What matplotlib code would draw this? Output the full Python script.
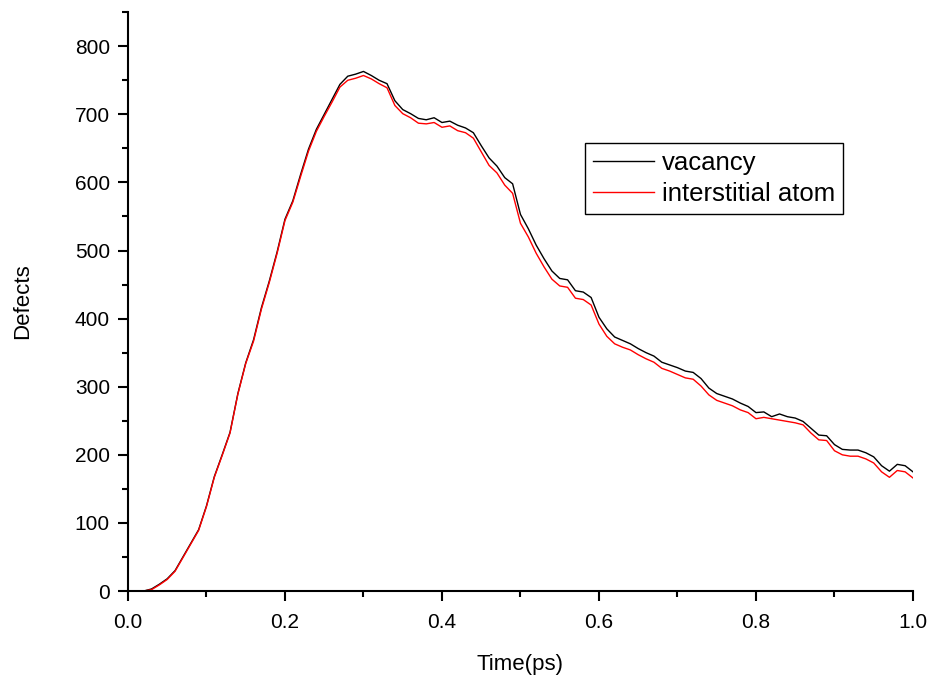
import numpy as np
import matplotlib
matplotlib.use("Agg")
import matplotlib.pyplot as plt
from matplotlib.ticker import MultipleLocator

# time in ps, step 0.01
time_ps = np.round(np.arange(1, 101) * 0.01, 2)

vacancy = [0, 0, 3, 10, 18, 30, 50, 70, 90, 125,
           168, 200, 233, 290, 335, 369, 416, 455, 498, 546,
           573, 612, 649, 678, 700, 722, 744, 756, 759, 763,
           757, 750, 745, 720, 707, 701, 694, 692, 695, 688,
           690, 684, 680, 673, 654, 636, 624, 607, 598, 553,
           532, 508, 488, 470, 459, 457, 441, 439, 431, 402,
           385, 373, 368, 363, 356, 350, 345, 336, 332, 328,
           323, 321, 312, 298, 290, 286, 282, 276, 271, 262,
           263, 256, 260, 256, 254, 249, 239, 229, 228, 215,
           208, 207, 207, 203, 197, 184, 176, 186, 184, 175]

interstitial = [0, 0, 2, 9, 17, 29, 49, 69, 89, 124,
                167, 199, 232, 289, 334, 367, 414, 453, 496, 544,
                571, 609, 646, 675, 697, 718, 740, 750, 753, 757,
                752, 745, 739, 713, 701, 695, 687, 686, 688, 681,
                683, 676, 673, 665, 645, 625, 614, 596, 584, 540,
                520, 496, 476, 458, 448, 446, 430, 428, 420, 392,
                374, 363, 358, 354, 347, 341, 336, 327, 323, 318,
                313, 311, 301, 288, 280, 276, 272, 266, 262, 253,
                255, 253, 251, 249, 247, 244, 232, 222, 221, 206,
                200, 198, 198, 194, 188, 175, 167, 177, 175, 166]

plt.rcParams['font.family'] = ['Liberation Sans', 'DejaVu Sans']

fig = plt.figure(figsize=(9.32, 6.77), dpi=100)
ax = fig.add_axes([0.1373, 0.127, 0.8423, 0.855])

ax.plot(time_ps, vacancy, color='black', lw=1.0, label='vacancy')
ax.plot(time_ps, interstitial, color='red', lw=1.0, label='interstitial atom')

ax.set_xlim(0, 1.0)
ax.set_ylim(0, 850)
ax.xaxis.set_major_locator(MultipleLocator(0.2))
ax.xaxis.set_minor_locator(MultipleLocator(0.1))
ax.yaxis.set_minor_locator(MultipleLocator(50))
ax.set_yticks(np.arange(0, 801, 100))

for s in ['top', 'right']:
    ax.spines[s].set_visible(False)
for s in ['left', 'bottom']:
    ax.spines[s].set_linewidth(1.5)

ax.tick_params(which='major', direction='out', length=7, width=1.5, labelsize=15, pad=6)
ax.tick_params(axis='x', which='major', pad=9)
ax.tick_params(which='minor', direction='out', length=4, width=1.5)

ax.set_xlabel('Time(ps)', fontsize=16, labelpad=16)
ax.set_ylabel('Defects', fontsize=16, labelpad=30)

leg = ax.legend(loc='upper left', bbox_to_anchor=(0.582, 0.774), fontsize=18.5,
                handlelength=2.4, handletextpad=0.3, borderpad=0.3,
                borderaxespad=0, labelspacing=0.3, fancybox=False, framealpha=1)
leg.get_frame().set_edgecolor('black')
leg.get_frame().set_linewidth(1.0)

fig.savefig('out.png', dpi=100)
